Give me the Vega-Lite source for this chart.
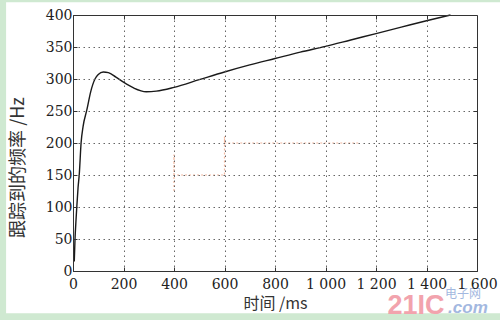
{
  "$schema": "https://vega.github.io/schema/vega-lite/v6.json",
  "width": 404,
  "height": 256,
  "autosize": {"type": "none"},
  "padding": {"left": 73, "top": 15, "right": 23, "bottom": 49},
  "background": "#cfe9d1",
  "config": {
    "view": {"stroke": null},
    "axis": {
      "labelFont": "DejaVu Serif",
      "labelFontSize": 14,
      "labelColor": "#222",
      "labelOverlap": false,
      "labelFlush": false,
      "titleFont": "Noto Sans CJK SC",
      "titleFontSize": 16,
      "titleFontWeight": "normal",
      "titleColor": "#333",
      "domainColor": "#333",
      "domainWidth": 1,
      "tickColor": "#333",
      "tickSize": -4,
      "gridColor": "#555",
      "gridDash": [1.5, 3.5],
      "gridWidth": 1,
      "gridOpacity": 0.9
    }
  },
  "datasets": {
    "curve": [
      {"t": 5, "f": 15}, {"t": 8, "f": 50}, {"t": 12, "f": 80}, {"t": 15, "f": 100},
      {"t": 20, "f": 130}, {"t": 25, "f": 152}, {"t": 32, "f": 200}, {"t": 40, "f": 226},
      {"t": 55, "f": 252}, {"t": 70, "f": 280}, {"t": 87, "f": 300}, {"t": 100, "f": 307},
      {"t": 120, "f": 311}, {"t": 140, "f": 310}, {"t": 170, "f": 303}, {"t": 200, "f": 295},
      {"t": 240, "f": 286}, {"t": 290, "f": 280}, {"t": 330, "f": 281}, {"t": 400, "f": 287},
      {"t": 500, "f": 299}, {"t": 600, "f": 311}, {"t": 700, "f": 322}, {"t": 800, "f": 332},
      {"t": 900, "f": 342}, {"t": 1000, "f": 351}, {"t": 1100, "f": 361}, {"t": 1200, "f": 371},
      {"t": 1300, "f": 381}, {"t": 1400, "f": 391}, {"t": 1495, "f": 400}
    ],
    "steps": [
      {"i": 1, "t": 400, "f": 125}, {"i": 2, "t": 400, "f": 182}, {"i": 3, "t": 400, "f": 150},
      {"i": 4, "t": 600, "f": 150}, {"i": 5, "t": 600, "f": 210}, {"i": 6, "t": 600, "f": 200},
      {"i": 7, "t": 1130, "f": 200}
    ],
    "one": [{"k": 1}]
  },
  "resolve": {"axis": {"x": "independent", "y": "independent"}},
  "layer": [
    {
      "data": {"name": "one"},
      "mark": {"type": "rect", "fill": "#ffffff"},
      "encoding": {
        "x": {"datum": -265, "type": "quantitative", "scale": {"domain": [0, 1600], "nice": false}, "axis": null},
        "x2": {"datum": 1700},
        "y": {"datum": 420, "type": "quantitative", "scale": {"domain": [0, 400], "nice": false}, "axis": null},
        "y2": {"datum": -66}
      }
    },
    {
      "data": {"name": "steps"},
      "mark": {"type": "line", "color": "#eb9a78", "strokeWidth": 1.2, "strokeDash": [2, 2], "opacity": 0.7},
      "encoding": {
        "order": {"field": "i"},
        "x": {
          "field": "t", "type": "quantitative",
          "axis": {"orient": "top", "zindex": 1, "values": [200, 400, 600, 800, 1000, 1200, 1400], "labels": false, "title": null, "grid": false}
        },
        "y": {
          "field": "f", "type": "quantitative",
          "axis": {"orient": "right", "zindex": 1, "values": [50, 100, 150, 200, 250, 300, 350], "labels": false, "title": null, "grid": false}
        }
      }
    },
    {
      "data": {"name": "curve"},
      "mark": {"type": "line", "color": "#1a1a1a", "strokeWidth": 1.4, "interpolate": "monotone"},
      "encoding": {
        "x": {
          "field": "t", "type": "quantitative",
          "axis": {
            "orient": "bottom", "zindex": 1, "values": [0, 200, 400, 600, 800, 1000, 1200, 1400, 1600], "grid": true,
            "labelFont": "DejaVu Serif", "labelOverlap": false, "labelFlush": false,
            "title": "时间 /ms", "titlePadding": 4, "labelPadding": 10,
            "labelExpr": "datum.value >= 1000 ? replace(format(datum.value, ','), ',', ' ') : datum.label"
          }
        },
        "y": {
          "field": "f", "type": "quantitative",
          "axis": {
            "orient": "left", "zindex": 1, "values": [0, 50, 100, 150, 200, 250, 300, 350, 400], "grid": true,
            "labelFont": "DejaVu Serif", "labelFlush": false,
            "title": "跟踪到的频率 /Hz", "titleFontSize": 18, "titlePadding": 18, "titleY": 152, "labelPadding": 5
          }
        }
      }
    },
    {
      "data": {"name": "one"},
      "mark": {"type": "text", "text": "21IC", "font": "Liberation Sans", "fontWeight": "bold", "fontSize": 27, "color": "#f2a3ad"},
      "encoding": {
        "x": {"datum": 1358, "type": "quantitative", "axis": null},
        "y": {"datum": -54, "type": "quantitative", "axis": null}
      }
    },
    {
      "data": {"name": "one"},
      "mark": {"type": "text", "text": "电子网", "font": "Noto Sans CJK SC", "fontSize": 12, "color": "#a3b8e0"},
      "encoding": {
        "x": {"datum": 1545, "type": "quantitative", "axis": null},
        "y": {"datum": -36, "type": "quantitative", "axis": null}
      }
    },
    {
      "data": {"name": "one"},
      "mark": {"type": "text", "text": ".com", "font": "Liberation Sans", "fontStyle": "italic", "fontWeight": "bold", "fontSize": 17, "color": "#a3b8e0"},
      "encoding": {
        "x": {"datum": 1564, "type": "quantitative", "axis": null},
        "y": {"datum": -58, "type": "quantitative", "axis": null}
      }
    }
  ]
}
